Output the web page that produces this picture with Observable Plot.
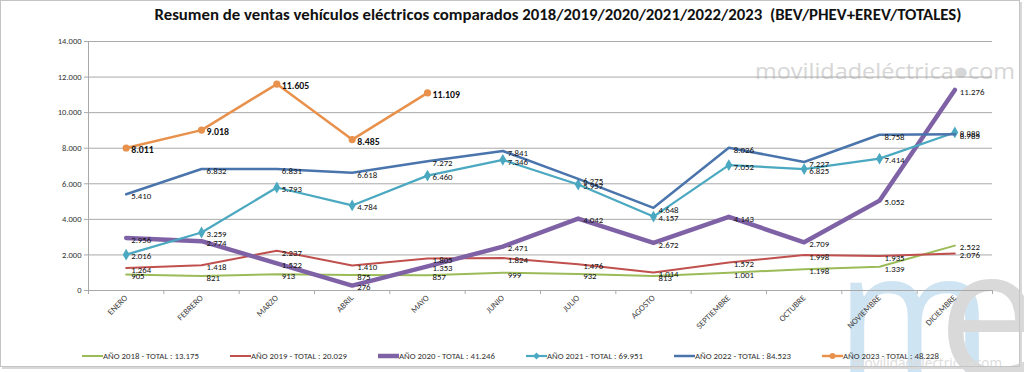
<!DOCTYPE html>
<html><head><meta charset="utf-8">
<script src="https://cdn.jsdelivr.net/npm/d3@7"></script>
<script src="https://cdn.jsdelivr.net/npm/@observablehq/plot@0.6"></script>
<style>
body{margin:0;background:#fff;}
#wrap{position:relative;width:1024px;height:372px;overflow:hidden;background:#fff;}
#wrap svg{position:absolute;left:0;top:0;}
#frame{position:absolute;left:0;top:0;width:1018px;height:365px;border:1px solid #c4c4c4;box-shadow:2px 2px 0 #d8d8d8;pointer-events:none;}
</style></head><body>
<div id="wrap"><div id="frame"></div></div>
<script>
const FONT = "Carlito, 'Liberation Sans Narrow', 'DejaVu Sans Condensed', 'Liberation Sans', sans-serif";
const months = ["ENERO","FEBRERO","MARZO","ABRIL","MAYO","JUNIO","JULIO","AGOSTO","SEPTIEMBRE","OCTUBRE","NOVIEMBRE","DICIEMBRE"];
const years = ["2018","2019","2020","2021","2022","2023"];
const sales2018 = [905,821,913,875,857,999,932,813,1001,1198,1339,2522];
const sales2019 = [1264,1418,2237,1410,1805,1824,1476,1014,1572,1998,1935,2076];
const sales2020 = [2956,2774,1522,276,1353,2471,4042,2672,4143,2709,5052,11276];
const sales2021 = [2016,3259,5793,4784,6460,7346,5957,4157,7052,6825,7414,8888];
const sales2022 = [5410,6832,6831,6618,7272,7841,6275,4648,8026,7227,8758,8785];
const sales2023 = [8011,9018,11605,8485,11109];
const yTicks = [0,2000,4000,6000,8000,10000,12000,14000];
const titleText = "Resumen de ventas vehículos eléctricos comparados 2018/2019/2020/2021/2022/2023  (BEV/PHEV+EREV/TOTALES)";
const watermark = "movilidadeléctrica\u25CFcom";

const allSales = [sales2018,sales2019,sales2020,sales2021,sales2022,sales2023];
const colors = ["#9bbb59","#c0504d","#7f62a6","#4aa8c0","#4a74ac","#e8914c"];
const widths = [2,2,4.5,2.2,2.5,2.5];
const symbols = [null,null,null,"diamond",null,"circle"];

const fmt = n => d3.format(",")(n).replace(/,/g, ".");
const rows = [];
allSales.forEach((arr,k)=>arr.forEach((v,i)=>rows.push({year:years[k], k, i, v})));

const wrap = document.getElementById("wrap");

// background watermarks
const bg = d3.select(wrap).insert("svg","#frame").attr("width",1024).attr("height",372);
bg.append("text").attr("x",755).attr("y",79).attr("textLength",260).attr("lengthAdjust","spacingAndGlyphs")
  .attr("font-family","'Open Sans', Lato, sans-serif").attr("font-size",21).attr("fill","#d6d6d6").text(watermark);
const logo = bg.append("g").attr("transform","translate(836,378)");
logo.append("text").attr("transform","scale(0.95,1)").attr("font-family","'Open Sans', sans-serif").attr("font-size",178).attr("fill","#cfe4f2").text("m");
logo.append("text").attr("x",102).attr("font-family","'Open Sans', sans-serif").attr("font-size",182).attr("fill","#d9d9d9").text("e");
bg.append("text").attr("x",852).attr("y",368).attr("textLength",150).attr("lengthAdjust","spacingAndGlyphs")
  .attr("font-family","'Open Sans', sans-serif").attr("font-size",14).attr("fill","#dcdcdc").text(watermark);

const boundaries = months.map((_,i)=>i-0.5).concat([months.length-0.5]);
const centers = months.map((_,i)=>i);

const marks = [
  Plot.gridY({ticks: yTicks, stroke:"#a9a9a9", strokeOpacity:1, strokeWidth:1}),
  Plot.ruleX([-0.5],{stroke:"#a9a9a9"}),
  Plot.ruleY([0],{stroke:"#a9a9a9"}),
  Plot.axisY({ticks: yTicks, tickFormat: fmt, tickSize:4, tickPadding:3, fontSize:8.5, stroke:"#a9a9a9", fill:"#333", label:null}),
  Plot.axisX({ticks: boundaries, tickFormat: ()=>"", tickSize:4, stroke:"#a9a9a9", label:null}),
  Plot.axisX({ticks: centers, tickFormat: i=>months[i], tickSize:0, tickPadding:6, tickRotate:-45, fontSize:8.6, fill:"#444", label:null})
];
allSales.forEach((arr,k)=>{
  const d = rows.filter(r=>r.k===k);
  marks.push(Plot.line(d,{x:"i", y:"v", stroke:colors[k], strokeWidth:widths[k], strokeLinejoin:"round", strokeLinecap:"round"}));
  if (symbols[k]) marks.push(Plot.dot(d,{x:"i", y:"v", symbol:symbols[k], r:3.6, fill:colors[k]}));
});
allSales.forEach((arr,k)=>{
  const d = rows.filter(r=>r.k===k);
  marks.push(Plot.text(d,{x:"i", y:"v", text:r=>fmt(r.v), dx:5, dy:2, textAnchor:"start", fontSize: k===5?9.8:8.8, fontWeight: k===5?"bold":"normal", fill:"#111"}));
});

const chart = Plot.plot({
  width:1024, height:372, marginLeft:88, marginRight:32, marginTop:41, marginBottom:82,
  style:{background:"transparent", fontFamily:FONT},
  x:{domain:[-0.5,11.5], axis:null},
  y:{domain:[0,14000], axis:null},
  marks
});
wrap.insertBefore(chart, document.getElementById("frame"));

// overlay: title + legend
const ov = d3.select(wrap).insert("svg","#frame").attr("width",1024).attr("height",372).style("font-family",FONT);
ov.append("text").attr("x",558).attr("y",20).attr("text-anchor","middle").attr("font-weight","bold").attr("font-size",16)
  .attr("textLength",807).attr("lengthAdjust","spacingAndGlyphs").attr("fill","#111")
  .style("white-space","pre").text(titleText);
const lg = ov.append("g");
years.forEach((y,k)=>{
  const x0 = 82 + k*148;
  const g = lg.append("g").attr("transform",`translate(${x0},356)`);
  g.append("line").attr("x1",0).attr("x2",21).attr("stroke",colors[k]).attr("stroke-width",widths[k]);
  if (symbols[k]==="diamond") g.append("path").attr("d",d3.symbol(d3.symbolDiamond2,30)()).attr("transform","translate(10.5,0)").attr("fill",colors[k]);
  if (symbols[k]==="circle") g.append("circle").attr("cx",10.5).attr("r",3).attr("fill",colors[k]);
  g.append("text").attr("x",21).attr("dy","0.35em").attr("font-size",8.8).attr("fill","#333")
    .text(`AÑO ${y} - TOTAL : ${fmt(d3.sum(allSales[k]))}`);
});
</script>
</body></html>
